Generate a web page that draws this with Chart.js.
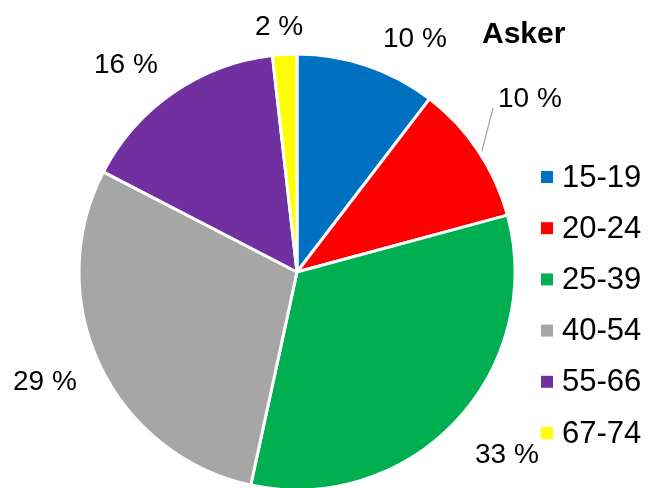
<!DOCTYPE html>
<html>
<head>
<meta charset="utf-8">
<script src="https://cdn.jsdelivr.net/npm/chart.js@4/dist/chart.umd.min.js"></script>
<style>
  html, body { margin: 0; padding: 0; background: #fff; }
  #wrap { width: 648px; height: 488px; }
</style>
</head>
<body>
<div id="wrap"><canvas id="pie" width="648" height="488"></canvas></div>
<script>
// data
const categories = ['15-19', '20-24', '25-39', '40-54', '55-66', '67-74'];
const shares = [10.4, 10.4, 32.6, 29.2, 15.6, 1.8];
const colors = ['#0070C0', '#FF0000', '#00B050', '#A6A6A6', '#7030A0', '#FFFF00'];
const title = 'Asker';

// where excel put each percentage label (left x, baseline y)
const labelPos = [[383, 47], [498, 107], [475, 463], [13, 390], [94, 73], [255, 35]];

const FONT = '"Liberation Sans", Arial, sans-serif';

// labels, leader line, title and legend drawn on top
const extras = {
    id: 'extras',
    afterDraw(chart) {
        const ctx = chart.ctx;
        ctx.save();
        ctx.fillStyle = '#000';
        ctx.textBaseline = 'alphabetic';
        ctx.textAlign = 'left';

        // leader line for the 20-24 label
        ctx.strokeStyle = '#A6A6A6';
        ctx.lineWidth = 1.2;
        ctx.beginPath();
        ctx.moveTo(493, 108);
        ctx.lineTo(482, 151);
        ctx.stroke();

        ctx.font = '28px ' + FONT;
        shares.forEach((v, i) => {
            ctx.fillText(Math.round(v) + ' %', labelPos[i][0], labelPos[i][1]);
        });

        ctx.font = 'bold 30px ' + FONT;
        ctx.fillText(title, 482, 43);

        // legend
        ctx.font = '31px ' + FONT;
        categories.forEach((c, i) => {
            const yc = 177 + i * 51.2;
            ctx.fillStyle = colors[i];
            ctx.fillRect(541, yc - 6, 12, 12);
            ctx.fillStyle = '#000';
            ctx.fillText(c, 562, yc + 9.5);
        });
        ctx.restore();
    }
};

new Chart(document.getElementById('pie'), {
    type: 'pie',
    data: {
        labels: categories,
        datasets: [{
            data: shares,
            backgroundColor: colors,
            borderColor: '#FFFFFF',
            borderWidth: 3,
            radius: 218
        }]
    },
    options: {
        responsive: false,
        animation: false,
        layout: { padding: { left: 80, right: 134, top: 56, bottom: 0 } },
        plugins: {
            legend: { display: false },
            tooltip: { enabled: false }
        }
    },
    plugins: [extras]
});
</script>
</body>
</html>
